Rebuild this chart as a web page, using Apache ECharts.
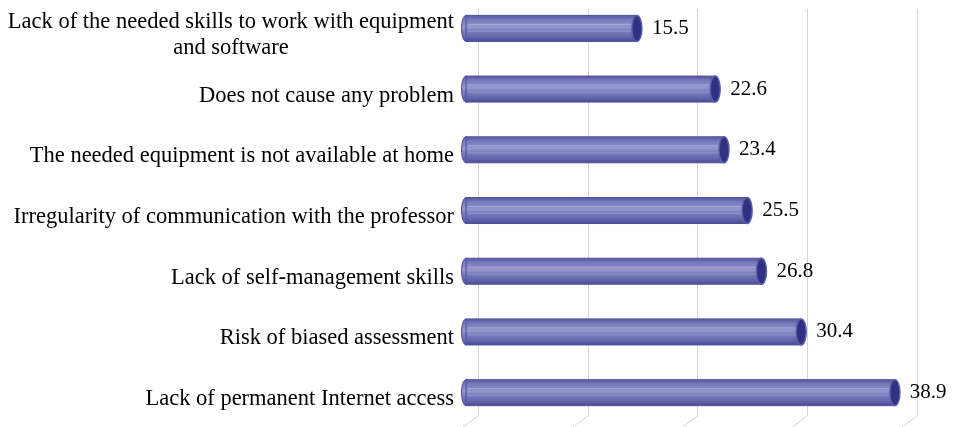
<!DOCTYPE html>
<html>
<head>
<meta charset="utf-8">
<script src="https://cdn.jsdelivr.net/npm/echarts@6/dist/echarts.min.js"></script>
<style>html,body{margin:0;padding:0;background:#fff;overflow:hidden;}
#wrap{position:relative;width:953px;height:427px;overflow:hidden;}
#c{position:absolute;left:0;top:-4px;width:953px;height:431px;}</style>
</head>
<body>
<div id="wrap"><div id="c"></div></div>
<script>
const categories = [
  "Lack of the needed skills to work with equipment\nand software",
  "Does not cause any problem",
  "The needed equipment is not available at home",
  "Irregularity of communication with the professor",
  "Lack of self-management skills",
  "Risk of biased assessment",
  "Lack of permanent Internet access"
];
const values = [15.5, 22.6, 23.4, 25.5, 26.8, 30.4, 38.9];
const gridTicks = [0, 10, 20, 30, 40];

const FONT = "'Liberation Serif', 'Times New Roman', serif";
const chart = echarts.init(document.getElementById('c'), null, {renderer: 'canvas'});

function bodyGradient() {
  return new echarts.graphic.LinearGradient(0, 0, 0, 1, [
    {offset: 0, color: '#5a5ca4'},
    {offset: 0.12, color: '#7476ba'},
    {offset: 0.3, color: '#8587c4'},
    {offset: 0.45, color: '#9597cd'},
    {offset: 0.55, color: '#8284c2'},
    {offset: 0.75, color: '#6e70b4'},
    {offset: 0.9, color: '#5f61a8'},
    {offset: 1, color: '#4d4f97'}
  ]);
}

function renderCylinder(params, api) {
  const v = api.value(0);
  const idx = api.value(1);
  const start = api.coord([0, idx]);
  const end = api.coord([v, idx]);
  const h = 26;
  const cy = start[1];
  const x0 = start[0], x1 = end[0];
  const rx = 4.5;
  const children = [
    {type: 'ellipse', shape: {cx: x0, cy: cy, rx: rx, ry: h / 2},
     style: {fill: bodyGradient(), stroke: '#4b4d99', lineWidth: 1}},
    {type: 'rect', shape: {x: x0, y: cy - h / 2, width: x1 - x0, height: h},
     style: {fill: bodyGradient(), stroke: '#4b4d99', lineWidth: 1}},
    {type: 'rect', shape: {x: x0 + 1, y: cy - h / 2 + 1, width: x1 - x0 - 1, height: h - 2},
     style: {fill: bodyGradient(), stroke: null}},
    {type: 'line', shape: {x1: x0 + 2, y1: cy - 4, x2: x1 - 2, y2: cy - 4},
     style: {stroke: 'rgba(180,182,225,0.7)', lineWidth: 1}},
    {type: 'line', shape: {x1: x0 + 2, y1: cy + 3, x2: x1 - 2, y2: cy + 3},
     style: {stroke: 'rgba(165,167,215,0.5)', lineWidth: 1}},
    {type: 'ellipse', shape: {cx: x1, cy: cy, rx: rx + 0.5, ry: h / 2},
     style: {fill: '#2f3182', stroke: '#5b5da8', lineWidth: 1.5}},
    {type: 'text', style: {x: x1 + 15, y: cy, text: String(v), fill: '#000',
      font: '21px ' + FONT, textAlign: 'left', textVerticalAlign: 'middle'}}
  ];
  return {type: 'group', children: children};
}

function renderFloor(params, api) {
  const v = api.value(0);
  const p = api.coord([v, 0]);
  return {type: 'line', shape: {x1: p[0], y1: p[1], x2: p[0] - 15, y2: p[1] + 11},
    style: {stroke: '#d4d4d4', lineWidth: 1}};
}

chart.setOption({
  animation: false,
  backgroundColor: '#ffffff',
  grid: [
    {left: 466, right: 46, top: 0.5, bottom: 4},
    {left: 478, right: 36, top: 13, bottom: 11}
  ],
  xAxis: [
    {type: 'value', gridIndex: 0, min: 0, max: 40, interval: 10, show: false},
    {type: 'value', gridIndex: 1, min: 0, max: 40, interval: 10,
     axisLine: {show: false}, axisTick: {show: false}, axisLabel: {show: false},
     splitLine: {show: true, lineStyle: {color: '#d4d4d4', width: 1}}}
  ],
  yAxis: [
    {type: 'category', gridIndex: 0, data: categories, inverse: true,
     axisLine: {show: false}, axisTick: {show: false}, splitLine: {show: false},
     axisLabel: {margin: 12, color: '#000', fontFamily: FONT, fontSize: 22.5, lineHeight: 26,
       padding: [13, 0, 0, 0],
       formatter: function (val) {
         const parts = val.split('\n');
         if (parts.length === 1) return '{a|' + parts[0] + '}';
         return parts.map(p => '{c|' + p + '}').join('\n');
       },
       rich: {
         a: {fontFamily: FONT, fontSize: 22.5, color: '#000'},
         c: {fontFamily: FONT, fontSize: 22.5, color: '#000', align: 'center', lineHeight: 26}
       }}},
    {type: 'value', gridIndex: 1, min: 0, max: 1, show: false}
  ],
  series: [
    {type: 'custom', xAxisIndex: 1, yAxisIndex: 1, z: 1,
     data: gridTicks.map(t => [t, 0]), renderItem: renderFloor, silent: true},
    {type: 'custom', xAxisIndex: 0, yAxisIndex: 0, z: 5,
     data: values.map((v, i) => [v, i]), encode: {x: 0, y: 1},
     renderItem: renderCylinder}
  ]
});
</script>
</body>
</html>
